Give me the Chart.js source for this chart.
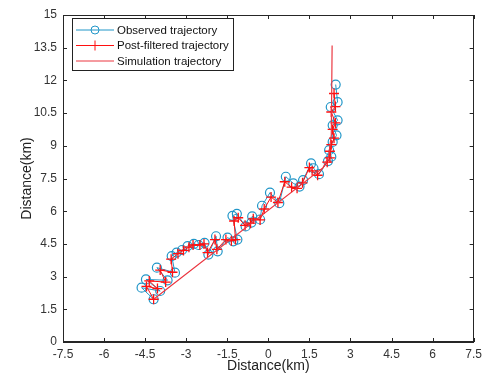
<!DOCTYPE html>
<html><head><meta charset="utf-8">
<script src="https://cdn.jsdelivr.net/npm/chart.js@4.4.0/dist/chart.umd.min.js"></script>
<style>html,body{margin:0;padding:0;background:#fff;} canvas{display:block;}</style>
</head><body>
<canvas id="c" width="487" height="385"></canvas>
<script>
// ---- data ----
const xTickValues = [-7.5,-6,-4.5,-3,-1.5,0,1.5,3,4.5,6,7.5];
const xTickLabels = ['-7.5','-6','-4.5','-3','-1.5','0','1.5','3','4.5','6','7.5'];
const yTickValues = [0,1.5,3,4.5,6,7.5,9,10.5,12,13.5,15];
const yTickLabels = ['0','1.5','3','4.5','6','7.5','9','10.5','12','13.5','15'];

const seriesNames = ['Observed trajectory','Post-filtered trajectory','Simulation trajectory'];

const obsX = [-4.19,-4.63,-3.95,-4.47,-3.68,-4.07,-3.41,-3.53,-3.35,-3.15,-2.95,-2.72,-2.55,-2.33,-2.19,-1.91,-1.85,-1.49,-1.28,-1.13,-1.31,-1.15,-0.83,-0.62,-0.59,-0.30,-0.23,0.06,0.40,0.64,0.91,1.14,1.27,1.56,1.65,1.85,2.18,2.30,2.22,2.35,2.49,2.35,2.53,2.28,2.53,2.46];
const obsY = [1.96,2.49,2.34,2.87,2.83,3.41,3.18,3.94,4.10,4.22,4.40,4.50,4.45,4.55,4.01,4.85,4.16,4.79,4.62,4.70,5.79,5.88,5.30,5.48,5.76,5.62,6.25,6.85,6.37,7.58,7.28,7.13,7.43,8.19,7.97,7.70,8.30,8.50,8.80,9.18,9.48,9.94,10.17,10.78,11.00,11.81];

const filtX = [-4.19,-4.45,-4.05,-4.35,-3.75,-3.95,-3.50,-3.55,-3.30,-3.10,-2.90,-2.75,-2.50,-2.35,-2.22,-1.95,-1.88,-1.55,-1.35,-1.20,-1.25,-1.10,-0.85,-0.65,-0.55,-0.30,-0.15,0.10,0.35,0.60,0.85,1.05,1.25,1.50,1.60,1.80,2.15,2.25,2.25,2.30,2.40,2.35,2.45,2.30,2.45,2.40];
const filtY = [1.96,2.55,2.45,2.80,2.75,3.30,3.20,3.80,4.05,4.20,4.35,4.45,4.45,4.50,4.10,4.70,4.25,4.70,4.65,4.70,5.55,5.70,5.35,5.45,5.65,5.60,6.10,6.65,6.40,7.35,7.10,7.05,7.30,8.00,7.85,7.65,8.25,8.45,8.75,9.05,9.35,9.75,10.05,10.55,10.80,11.40];

const simX = [-4.19,2.00,2.20,2.30,2.33];
const simY = [1.96,8.00,8.50,9.50,13.60];

// ---- styles ----
const obsColor = '#2196c8';
const filtColor = '#ff1010';
const simColor = 'rgb(235,55,65)';
const axisColor = '#262626';
const FONT = '"Liberation Sans", Arial, Helvetica, sans-serif';

const toPts = (xs, ys) => xs.map((x, i) => ({x, y: ys[i]}));

const framePlugin = {
  id: 'frame',
  afterDraw(chart) {
    const {ctx, chartArea: {left, right, top, bottom}, scales: {x, y}} = chart;
    ctx.save();
    ctx.strokeStyle = axisColor;
    ctx.lineWidth = 1;
    ctx.strokeRect(Math.round(left) + 0.5, Math.round(top) + 0.5, Math.round(right - left) - 1, Math.round(bottom - top) - 1);
    const tl = 4;
    ctx.beginPath();
    xTickValues.forEach(v => {
      const px = Math.round(x.getPixelForValue(v)) + 0.5;
      ctx.moveTo(px, bottom); ctx.lineTo(px, bottom - tl);
      ctx.moveTo(px, top); ctx.lineTo(px, top + tl);
    });
    yTickValues.forEach(v => {
      const py = Math.round(y.getPixelForValue(v)) + 0.5;
      ctx.moveTo(left, py); ctx.lineTo(left + tl, py);
      ctx.moveTo(right, py); ctx.lineTo(right - tl, py);
    });
    ctx.stroke();

    // legend (MATLAB style)
    const bx = 72, by = 18, bw = 161, bh = 52;
    ctx.fillStyle = '#fff';
    ctx.fillRect(bx, by, bw, bh);
    ctx.strokeStyle = '#222';
    ctx.strokeRect(bx + 0.5, by + 0.5, bw, bh);
    const rows = [30, 45.5, 61];
    const lx0 = 76, lx1 = 114, mx = 95;
    ctx.font = '11.5px ' + FONT;
    ctx.textBaseline = 'middle';
    ctx.textAlign = 'left';
    const colors = [obsColor, filtColor, simColor];
    rows.forEach((ry, i) => {
      ctx.strokeStyle = colors[i];
      ctx.lineWidth = 1;
      ctx.beginPath(); ctx.moveTo(lx0, ry); ctx.lineTo(lx1, ry); ctx.stroke();
      if (i === 0) { ctx.beginPath(); ctx.arc(mx, ry, 4, 0, Math.PI * 2); ctx.stroke(); }
      if (i === 1) { ctx.beginPath(); ctx.moveTo(mx, ry - 5); ctx.lineTo(mx, ry + 5); ctx.stroke(); }
      ctx.fillStyle = '#111';
      ctx.fillText(seriesNames[i], 117, ry + 0.5);
    });
    ctx.restore();
  }
};

new Chart(document.getElementById('c'), {
  type: 'scatter',
  data: {
    datasets: [
      {
        label: seriesNames[2], data: toPts(simX, simY), showLine: true,
        borderColor: simColor, borderWidth: 1.2, pointRadius: 0, order: 0, tension: 0
      },
      {
        label: seriesNames[1], data: toPts(filtX, filtY), showLine: true,
        borderColor: filtColor, borderWidth: 1, pointStyle: 'cross', pointRadius: 5,
        pointBorderColor: filtColor, pointBorderWidth: 1.3, pointBackgroundColor: filtColor, order: 1
      },
      {
        label: seriesNames[0], data: toPts(obsX, obsY), showLine: true,
        borderColor: obsColor, borderWidth: 1, pointStyle: 'circle', pointRadius: 4.5,
        pointBorderColor: obsColor, pointBorderWidth: 1.2, pointBackgroundColor: 'rgba(0,0,0,0)', order: 2
      }
    ]
  },
  options: {
    responsive: false,
    animation: false,
    layout: {padding: {left: 0, top: 15, right: 8, bottom: 0}},
    plugins: {legend: {display: false}, tooltip: {enabled: false}},
    scales: {
      x: {
        type: 'linear', min: -7.5, max: 7.5,
        afterFit: s => { s.height = 43; },
        afterBuildTicks: s => { s.ticks = xTickValues.map(v => ({value: v})); },
        ticks: {
          autoSkip: false, maxRotation: 0, padding: 5, color: '#333',
          font: {family: FONT, size: 12},
          callback: (v, i) => xTickLabels[i]
        },
        grid: {display: true, drawOnChartArea: false, drawTicks: false},
        border: {display: true, color: axisColor},
        title: {display: true, text: 'Distance(km)', color: '#222',
          font: {family: FONT, size: 14}, padding: {top: 0, bottom: 10}}
      },
      y: {
        type: 'linear', min: 0, max: 15,
        afterFit: s => { s.width = 63; },
        afterBuildTicks: s => { s.ticks = yTickValues.map(v => ({value: v})); },
        ticks: {
          autoSkip: false, padding: 6, color: '#333',
          font: {family: FONT, size: 12},
          callback: (v, i) => yTickLabels[i]
        },
        grid: {display: true, drawOnChartArea: false, drawTicks: false},
        border: {display: true, color: axisColor},
        title: {display: true, text: 'Distance(km)', color: '#222',
          font: {family: FONT, size: 14}, padding: {top: 18.5, bottom: 0}}
      }
    }
  },
  plugins: [framePlugin]
});
</script>
</body></html>
